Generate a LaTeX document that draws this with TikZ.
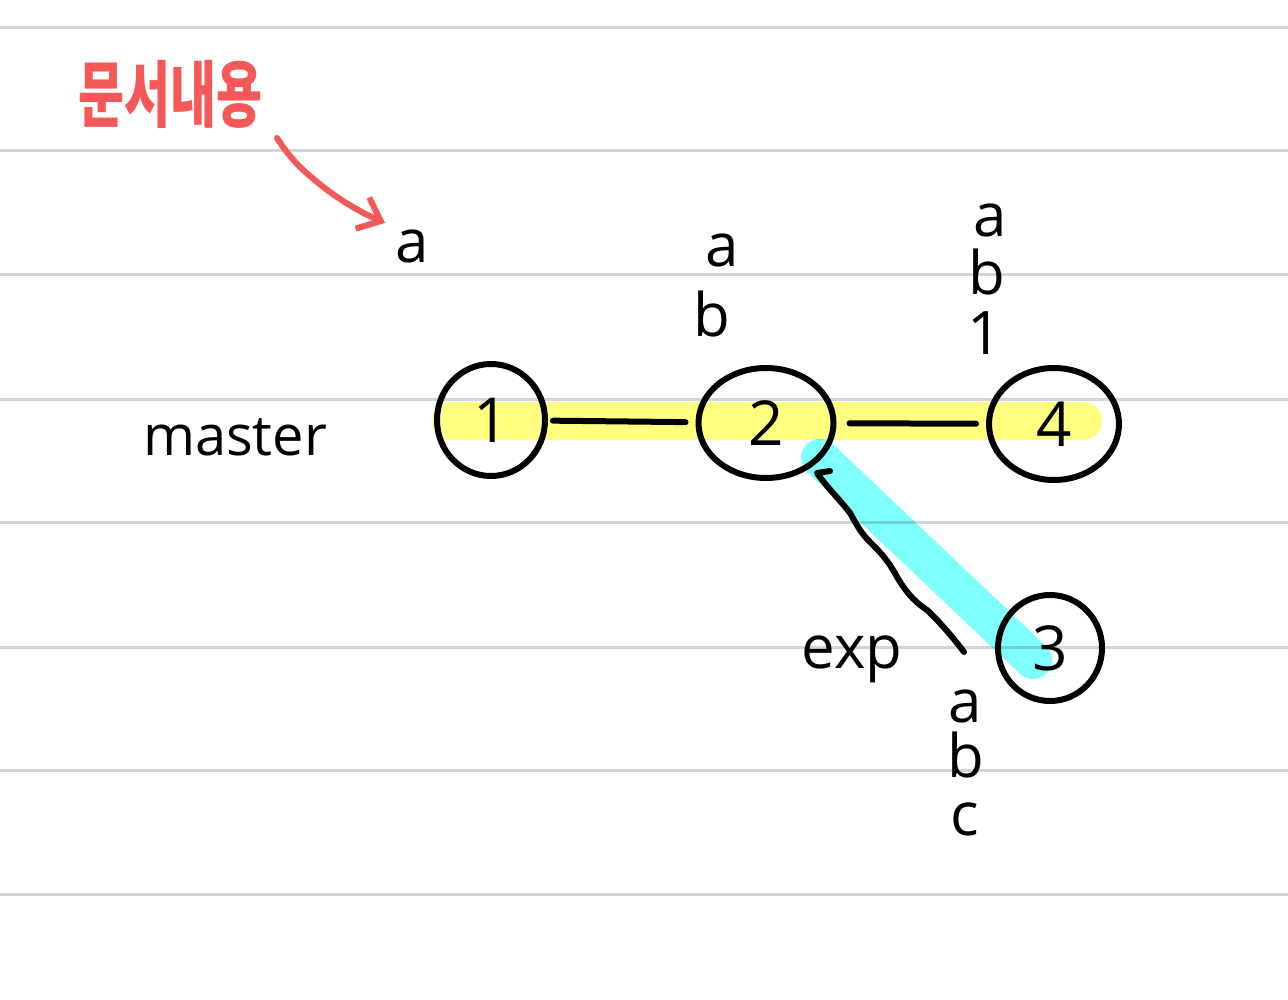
\documentclass[tikz,border=0pt]{standalone}
\usepackage{fontspec}
\setmainfont{Open Sans}
\newfontfamily\krfont{Noto Sans CJK KR}
\usetikzlibrary{shapes.geometric,arrows.meta,calc}
\definecolor{rulegray}{RGB}{212,212,214}
\definecolor{hlyellow}{RGB}{255,255,128}
\definecolor{hlcyan}{RGB}{128,255,255}
\definecolor{penred}{RGB}{245,88,88}
\begin{document}
\begin{tikzpicture}[x=1pt,y=-1pt,
  rule/.style={draw=rulegray, line width=3pt},
  pen/.style={line width=6pt, line cap=round, line join=round},
  circ/.style={ellipse, draw, line width=6pt, inner sep=0pt, font=\fontsize{62}{62}\selectfont},
  lbl/.style={inner sep=0pt, anchor=base, font=\fontsize{60}{60}\selectfont},
  hl/.style={line width=38pt, line cap=round}]
\useasboundingbox (0,0) rectangle (1288,1000);
\fill[white] (0,0) rectangle (1288,1000);
\foreach \y in {28,151,275,399,522,647,770,894} \draw[rule] (0,\y) -- (1288,\y);

% highlights
\begin{scope}[blend mode=multiply]
  \draw[hl, hlyellow] (451,421) -- (1083,421);
  \draw[hl, hlcyan] (820,458) -- (1033,660);
\end{scope}

% nodes
\node[circ, minimum width=108pt, minimum height=112pt] (n1) at (491,420) {1};
\node[circ, minimum width=135pt, minimum height=110pt] (n2) at (766,423) {2};
\node[circ, minimum width=130pt, minimum height=112pt] (n4) at (1054,424) {4};
\node[circ, minimum width=104pt, minimum height=106pt] (n3) at (1050,648) {3};

% edges
\draw[pen, shorten <=5pt, shorten >=10pt] (n1) -- (n2);
\draw[pen, shorten <=13pt, shorten >=10pt] (n2) -- (n4);
\draw[pen] ($(n3.west)+(-31,4)$) .. controls (955,640) and (940,622) .. (927,610)
  .. controls (912,600) and (905,590) .. (897,577)
  .. controls (888,560) and (880,552) .. (870,542)
  .. controls (860,532) and (857,525) .. (850,513)
  .. controls (840,500) and (825,485) .. (817,473) -- (830,471);

% labels
\node[lbl] (la0) at (412,263) {a};
\node[lbl] (l2a) at (722,267) {a};
\node[lbl] (l2b) at (712,337) {b};
\node[lbl] (l4a) at (990,237) {a};
\node[lbl] (l4b) at (987,295) {b};
\node[lbl] (l41) at (985,355) {1};
\node[lbl] (l3a) at (965,722) {a};
\node[lbl] (l3b) at (966,777) {b};
\node[lbl] (l3c) at (965,835) {c};
\node[lbl, font=\fontsize{56}{56}\selectfont] (master) at (235,455) {master};
\node[lbl] (exp) at (852,668) {exp};

% red note
\node[inner sep=0pt, text=penred, font=\krfont\bfseries\fontsize{50}{50}\selectfont] (kr) at (170,94) {\scalebox{1}[1.45]{문서내용}};
\coordinate (arrS) at (277,138);
\coordinate (arrE) at (385,223);
\draw[pen, penred, -{Straight Barb[length=20pt,width=34pt,line width=6pt]}]
  (arrS) .. controls (288,155) and (298,166) .. (310,176)
  .. controls (335,198) and (360,212) .. (arrE);
\end{tikzpicture}
\end{document}
